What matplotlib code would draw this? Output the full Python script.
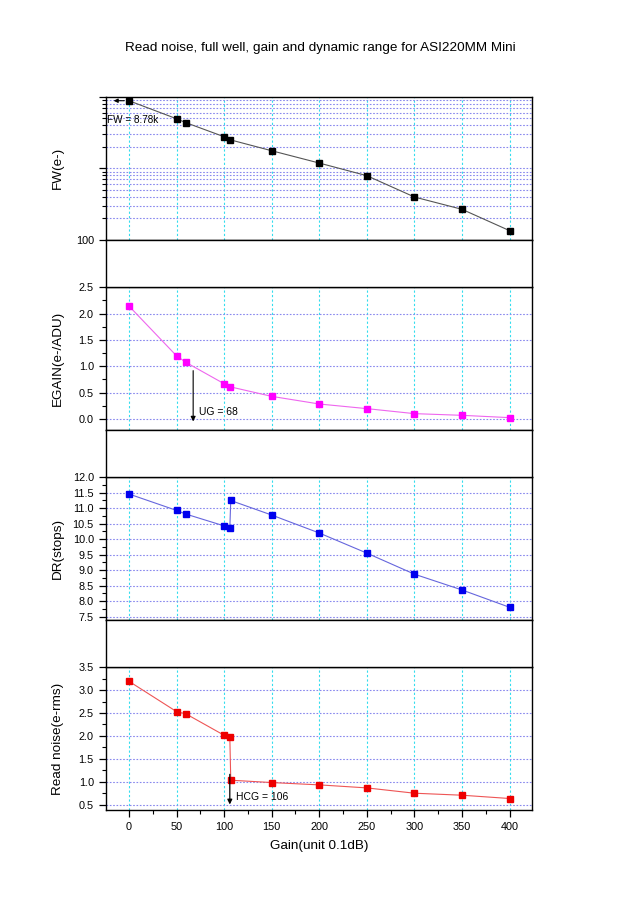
import matplotlib
matplotlib.use("Agg")
import matplotlib.pyplot as plt
from matplotlib.ticker import MultipleLocator, LogLocator, NullFormatter, FixedLocator
import numpy as np

plt.rcParams['font.family'] = ['Liberation Sans', 'DejaVu Sans']

# ---------------- data ----------------
gain_a = [0, 50, 60, 100, 106, 150, 200, 250, 300, 350, 400]
fw = [8780, 4920, 4330, 2760, 2510, 1760, 1185, 790, 398, 268, 135]
egain = [2.145, 1.199, 1.073, 0.669, 0.612, 0.429, 0.284, 0.196, 0.101, 0.069, 0.025]

gain_b = [0, 50, 60, 100, 106, 107, 150, 200, 250, 300, 350, 400]
dr = [11.46, 10.93, 10.81, 10.43, 10.35, 11.25, 10.78, 10.20, 9.55, 8.87, 8.36, 7.80]
rn = [3.194, 2.531, 2.480, 2.014, 1.985, 1.031, 0.980, 0.929, 0.863, 0.747, 0.703, 0.631]

x_ticks = [0, 50, 100, 150, 200, 250, 300, 350, 400]
title = "Read noise, full well, gain and dynamic range for ASI220MM Mini"

# ---------------- layout ----------------
fig = plt.figure(figsize=(6.4, 9), dpi=100)
L, R = 0.165, 0.832
W = R - L
panels = [(0.7333, 0.8926), (0.5222, 0.6808), (0.3111, 0.4697), (0.1000, 0.2586)]
gaps = [(0.6808, 0.7333), (0.4697, 0.5222), (0.2586, 0.3111)]

XLIM = (-24.5, 424)
vgrid_kw = dict(color='#33ddee', linestyle=(0, (2, 2)), linewidth=0.8)
hgrid_kw = dict(color='#8888ee', linestyle=(0, (1.5, 1.5)), linewidth=0.8)
TICK_FS = 7.8
LABEL_FS = 9.7
NOTE_FS = 7.2

axes = []
for (b, t) in panels:
    ax = fig.add_axes([L, b, W, t - b])
    ax.set_xlim(*XLIM)
    ax.xaxis.set_major_locator(FixedLocator(x_ticks))
    ax.xaxis.set_minor_locator(MultipleLocator(25))
    ax.tick_params(axis='both', which='both', direction='out', labelsize=TICK_FS)
    ax.tick_params(axis='both', which='major', length=5, width=0.9)
    ax.tick_params(axis='both', which='minor', length=3, width=0.8)
    ax.tick_params(axis='x', labelbottom=False)
    for s in ax.spines.values():
        s.set_linewidth(1.0)
    for xv in x_ticks:
        ax.axvline(xv, zorder=0, **vgrid_kw)
    axes.append(ax)

for (b, t) in gaps:
    g = fig.add_axes([L, b, W, t - b])
    g.set_xticks([]); g.set_yticks([])
    for s in g.spines.values():
        s.set_linewidth(1.0)

# ---- Panel 1: FW (log) ----
ax1 = axes[0]
ax1.set_yscale('log')
ax1.set_ylim(100, 10000)
ax1.yaxis.set_major_locator(FixedLocator([100, 1000, 10000]))
ax1.yaxis.set_major_formatter(plt.FuncFormatter(lambda v, p: "100" if abs(v - 100) < 1 else ""))
ax1.yaxis.set_minor_locator(LogLocator(base=10, subs=np.arange(2, 10)))
ax1.yaxis.set_minor_formatter(NullFormatter())
for yv in list(np.arange(2, 10) * 100) + [1000] + list(np.arange(2, 10) * 1000):
    ax1.axhline(yv, zorder=0, **hgrid_kw)
ax1.plot(gain_a, fw, color='#555555', linewidth=0.8, marker='s', markersize=5,
         markerfacecolor='black', markeredgecolor='black', zorder=3)
ax1.annotate("", xy=(-19, fw[0]), xytext=(-2, fw[0]),
             arrowprops=dict(arrowstyle='-|>', color='black', lw=0.8, mutation_scale=6))
ax1.text(-23, 4700, "FW = 8.78k", fontsize=NOTE_FS, ha='left', va='center')
ax1.set_ylabel("FW(e-)", fontsize=LABEL_FS)

# ---- Panel 2: EGAIN ----
ax2 = axes[1]
ax2.set_ylim(-0.21, 2.5)
ax2.yaxis.set_major_locator(FixedLocator([0.0, 0.5, 1.0, 1.5, 2.0, 2.5]))
ax2.yaxis.set_minor_locator(MultipleLocator(0.25))
ax2.yaxis.set_major_formatter(plt.FuncFormatter(lambda v, p: f"{v:.1f}"))
for yv in [0.0, 0.5, 1.0, 1.5, 2.0]:
    ax2.axhline(yv, zorder=0, **hgrid_kw)
ax2.plot(gain_a, egain, color='#ee66ee', linewidth=0.8, marker='s', markersize=4,
         markerfacecolor='#ff00ff', markeredgecolor='#ff00ff', zorder=3)
ax2.annotate("", xy=(67.5, -0.1), xytext=(67.5, 0.97),
             arrowprops=dict(arrowstyle='-|>', color='black', lw=0.8, mutation_scale=7))
ax2.text(74, 0.13, "UG = 68", fontsize=NOTE_FS + 0.3, ha='left', va='center')
ax2.set_ylabel("EGAIN(e-/ADU)", fontsize=LABEL_FS)

# ---- Panel 3: DR ----
ax3 = axes[2]
ax3.set_ylim(7.39, 12.0)
ax3.yaxis.set_major_locator(MultipleLocator(0.5))
ax3.yaxis.set_minor_locator(MultipleLocator(0.25))
ax3.yaxis.set_major_formatter(plt.FuncFormatter(lambda v, p: f"{v:.1f}"))
for yv in np.arange(7.5, 12.0, 0.5):
    ax3.axhline(yv, zorder=0, **hgrid_kw)
ax3.plot(gain_b, dr, color='#6666dd', linewidth=0.8, marker='s', markersize=4,
         markerfacecolor='#0000ee', markeredgecolor='#0000ee', zorder=3)
ax3.set_ylabel("DR(stops)", fontsize=LABEL_FS)

# ---- Panel 4: Read noise ----
ax4 = axes[3]
ax4.set_ylim(0.38, 3.5)
ax4.yaxis.set_major_locator(MultipleLocator(0.5))
ax4.yaxis.set_minor_locator(MultipleLocator(0.25))
ax4.yaxis.set_major_formatter(plt.FuncFormatter(lambda v, p: f"{v:.1f}"))
for yv in np.arange(0.5, 3.5, 0.5):
    ax4.axhline(yv, zorder=0, **hgrid_kw)
ax4.plot(gain_b, rn, color='#ee5555', linewidth=0.8, marker='s', markersize=5,
         markerfacecolor='#ee0000', markeredgecolor='#ee0000', zorder=3)
ax4.annotate("", xy=(106, 0.44), xytext=(106, 1.22),
             arrowprops=dict(arrowstyle='-|>', color='black', lw=0.9, mutation_scale=7))
ax4.text(113, 0.67, "HCG = 106", fontsize=NOTE_FS + 0.3, ha='left', va='center')
ax4.set_ylabel("Read noise(e-rms)", fontsize=LABEL_FS)
ax4.tick_params(axis='x', labelbottom=True, pad=3.5)
ax4.set_xlabel("Gain(unit 0.1dB)", fontsize=LABEL_FS, labelpad=6)

fig.text(0.5, 0.947, title, ha='center', va='center', fontsize=9.7)

# align y labels
for ax in axes:
    ax.yaxis.set_label_coords(-0.098, 0.5)

fig.savefig("out.png", dpi=100)
